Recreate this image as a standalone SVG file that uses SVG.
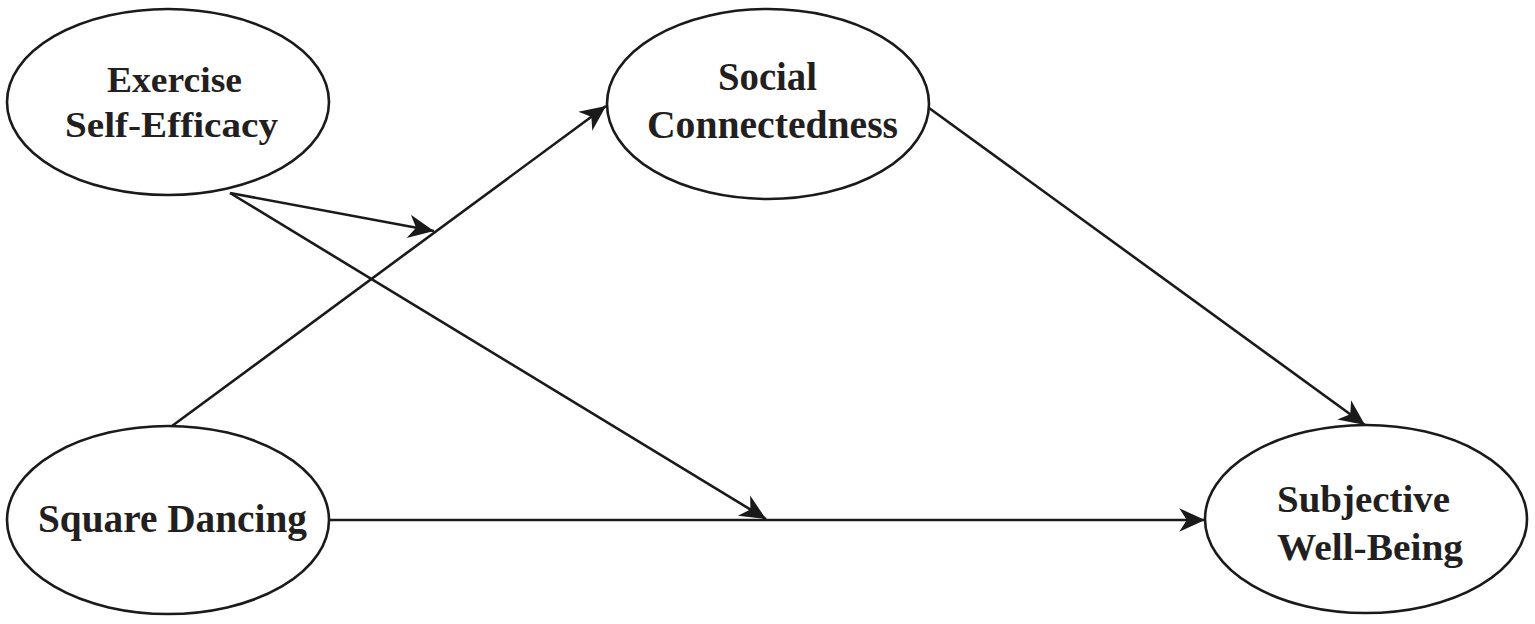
<svg xmlns="http://www.w3.org/2000/svg" width="1535" height="624" viewBox="0 0 1535 624">
<style>
.node{fill:#fff;stroke:#1a1a1a;stroke-width:2.6}
.lbl{font-family:"Liberation Serif","Times New Roman",serif;font-weight:bold;fill:#231f20}
.edge{stroke:#1a1a1a;stroke-width:2.6;fill:none}
</style>
<defs>
<marker id="arr" markerUnits="userSpaceOnUse" markerWidth="30" markerHeight="30" viewBox="-26 -13 28 26" refX="0" refY="0" orient="auto">
<path d="M0,0 L-24,-11 L-17,0 L-24,11 Z" fill="#1a1a1a"/>
</marker>
</defs>
<rect width="1535" height="624" fill="#fff"/>
<g id="connectors">
<line class="edge" x1="172" y1="426" x2="606" y2="106" marker-end="url(#arr)"/>
<line class="edge" x1="230" y1="193" x2="434" y2="231" marker-end="url(#arr)"/>
<line class="edge" x1="230" y1="193" x2="766" y2="519" marker-end="url(#arr)"/>
<line class="edge" x1="329" y1="520" x2="1205" y2="520" marker-end="url(#arr)"/>
<line class="edge" x1="929" y1="108" x2="1365" y2="425" marker-end="url(#arr)"/>
</g>
<g id="exercise-self-efficacy">
<ellipse class="node" cx="168" cy="102" rx="161" ry="93"/>
<text class="lbl" font-size="36" x="107" y="92" textLength="135" lengthAdjust="spacingAndGlyphs">Exercise</text>
<text class="lbl" font-size="36" x="65" y="137" textLength="213" lengthAdjust="spacingAndGlyphs">Self-Efficacy</text>
</g>
<g id="social-connectedness">
<ellipse class="node" cx="768" cy="104" rx="161" ry="95"/>
<text class="lbl" font-size="40" x="718" y="90" textLength="99" lengthAdjust="spacingAndGlyphs">Social</text>
<text class="lbl" font-size="40" x="647" y="138" textLength="251" lengthAdjust="spacingAndGlyphs">Connectedness</text>
</g>
<g id="square-dancing">
<ellipse class="node" cx="168" cy="520" rx="161" ry="94"/>
<text class="lbl" font-size="39" x="38" y="532" textLength="269" lengthAdjust="spacingAndGlyphs">Square Dancing</text>
</g>
<g id="subjective-well-being">
<ellipse class="node" cx="1366" cy="519" rx="161" ry="94"/>
<text class="lbl" font-size="37" x="1277" y="512" textLength="173" lengthAdjust="spacingAndGlyphs">Subjective</text>
<text class="lbl" font-size="38" x="1277" y="560" textLength="186" lengthAdjust="spacingAndGlyphs">Well-Being</text>
</g>
</svg>
